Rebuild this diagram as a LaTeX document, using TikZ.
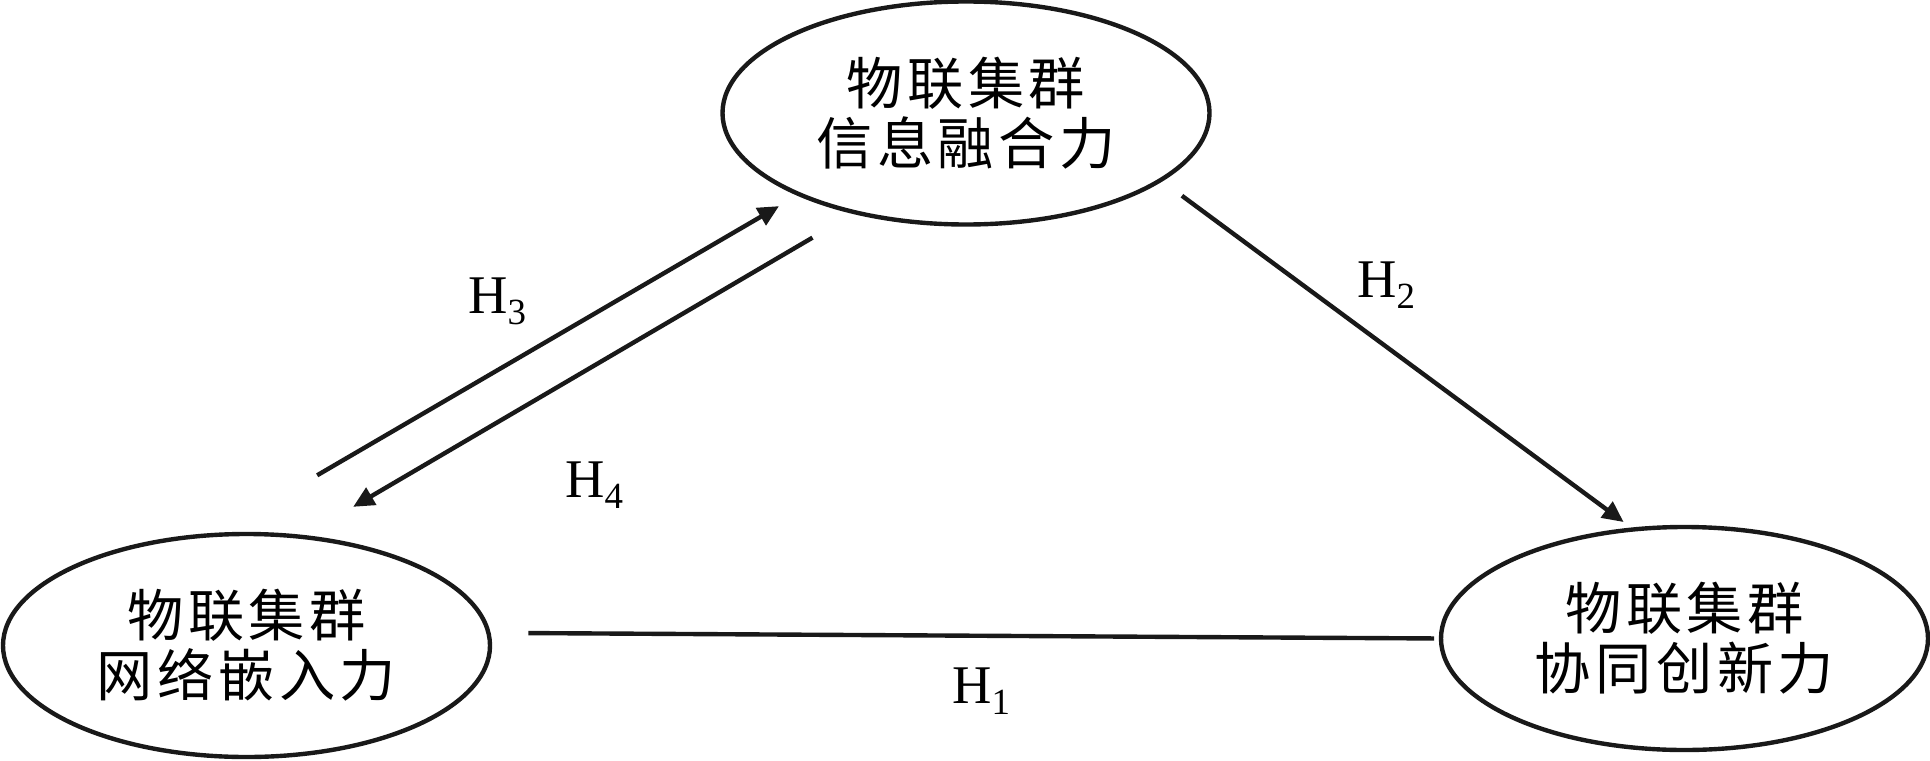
\documentclass[tikz,border=0pt]{standalone}
\usepackage{fontspec}
\setmainfont{Liberation Serif}
\newfontfamily\cjk[LetterSpace=8]{Noto Sans CJK SC}
\usetikzlibrary{shapes.geometric,arrows.meta}
\newcommand{\hyp}[1]{H\raisebox{-0.22em}{\fontsize{21}{21}\selectfont #1}}

\begin{document}
\begin{tikzpicture}[
		factor/.style={ellipse, draw=black!90, line width=2.5pt, minimum width=9.74cm, minimum height=4.46cm, inner sep=0pt, outer sep=0pt, align=center, font=\cjk\fontsize{32}{34}\selectfont},
		hyplabel/.style={anchor=base west, inner sep=0pt, font=\fontsize{31}{37}\selectfont},
		link/.style={draw=black!90, line width=2.5pt},
		effect/.style={link, -{Triangle[length=12pt,width=11pt]}}]
					\useasboundingbox (0,0) rectangle (38.6,15.2);
					\node[factor] (info) at (19.32,12.94) {物联集群\\信息融合力};
					\node[factor] (embed) at (4.93,2.29) {物联集群\\网络嵌入力};
					\node[factor] (innov) at (33.69,2.43) {物联集群\\协同创新力};
					\draw[link, shorten <=0.80cm, shorten >=0.14cm] (embed.3) -- (innov.west);
					\draw[effect, shorten <=0.53cm, shorten >=0.25cm] (info.-19) -- (innov.115);
					\draw[effect, shorten <=2.37cm, shorten >=0.47cm] (embed.106) -- (info.-154);
					\draw[effect, shorten <=1.0cm, shorten >=1.19cm] (info.-138) -- (embed.63);
					\node[hyplabel] (h1) at (19.04,1.14) {\hyp{1}};
					\node[hyplabel] (h2) at (27.14,9.26) {\hyp{2}};
					\node[hyplabel] (h3) at (9.36,8.94) {\hyp{3}};
					\node[hyplabel] (h4) at (11.30,5.26) {\hyp{4}};
				\end{tikzpicture}
\end{document}
